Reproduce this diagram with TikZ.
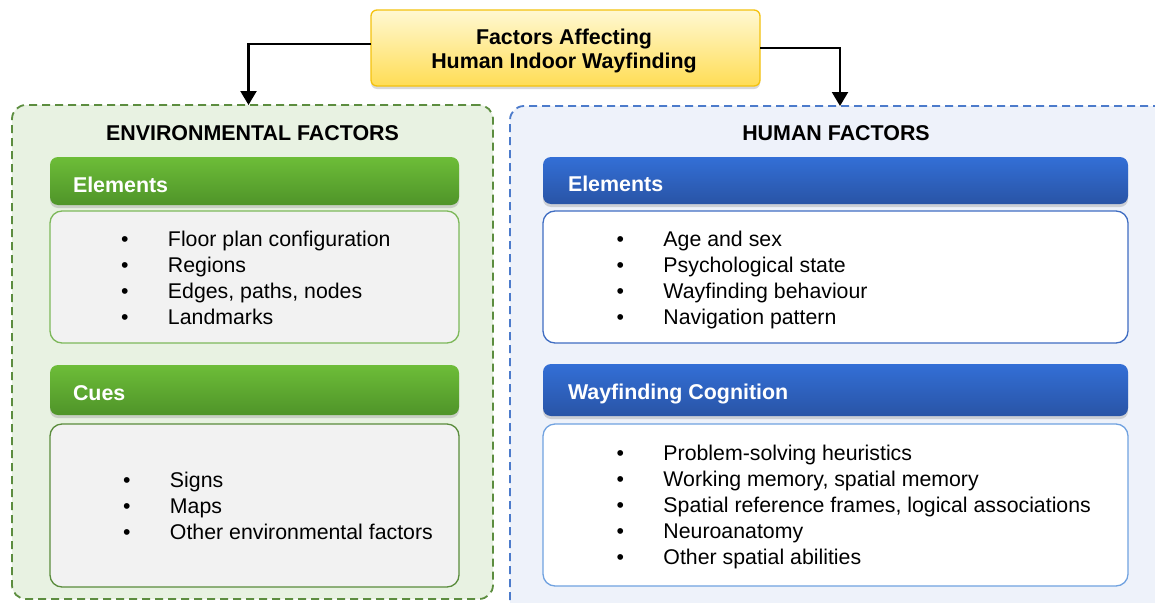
\documentclass[tikz,border=0pt]{standalone}
\usepackage{fontspec}
\setmainfont{Liberation Sans}
\usetikzlibrary{arrows.meta,shadows}

\definecolor{titleedge}{HTML}{F4C20F}
\definecolor{titletop}{HTML}{FFF8D2}
\definecolor{titlebot}{HTML}{FFDD55}
\definecolor{envedge}{HTML}{5C8D3F}
\definecolor{envfill}{HTML}{E8F2E2}
\definecolor{greentop}{HTML}{6DBD38}
\definecolor{greenbot}{HTML}{4F9429}
\definecolor{envlistedge}{HTML}{7DB85A}
\definecolor{envlistedgeb}{HTML}{5A8C3C}
\definecolor{listgray}{HTML}{F2F2F2}
\definecolor{humedge}{HTML}{4C7BCB}
\definecolor{humfill}{HTML}{EEF2FA}
\definecolor{bluetop}{HTML}{336FD6}
\definecolor{bluebot}{HTML}{2954A6}
\definecolor{humlistedge}{HTML}{3F6DC2}
\definecolor{humlistedgeb}{HTML}{70A2E0}

% a bulleted list whose first baseline is the node's base
\newenvironment{bulletlist}
  {\begin{tabular}[t]{@{}l@{}l@{}}}
  {\end{tabular}}
\newcommand\bul{\makebox[47pt][l]{•}}

\begin{document}
\begin{tikzpicture}[x=1pt,y=-1pt,
  every node/.style={inner sep=0pt, outer sep=0pt},
  bigfont/.style={font=\fontsize{21.4}{24}\selectfont\bfseries},
  listfont/.style={font=\fontsize{21.3}{26}\selectfont},
  shade/.style={drop shadow={shadow xshift=0pt, shadow yshift=-3pt, opacity=0.3}},
  titlebox/.style={draw=titleedge, line width=1.3pt, rounded corners=6pt,
    top color=titletop, bottom color=titlebot, shade,
    minimum width=389pt, minimum height=76pt},
  frame/.style={line width=1.8pt, dash pattern=on 8pt off 5pt, rounded corners=14pt},
  envframe/.style={frame, draw=envedge, fill=envfill},
  humframe/.style={frame, draw=humedge, fill=humfill},
  head/.style={rounded corners=8pt, shade},
  greenhead/.style={head, top color=greentop, bottom color=greenbot, minimum width=409pt},
  bluehead/.style={head, top color=bluetop, bottom color=bluebot, minimum width=585pt},
  headtext/.style={bigfont, text=white, anchor=base west},
  listbox/.style={rounded corners=12pt, line width=1.3pt},
  envlist/.style={listbox, fill=listgray, minimum width=409pt},
  humlist/.style={listbox, fill=white, minimum width=585pt},
  listtext/.style={listfont, anchor=base west},
  arr/.style={line width=2.2pt, -{Triangle[length=14pt,width=16pt]}}
]
\useasboundingbox (0,0) rectangle (1155,602);
\clip (0,0) rectangle (1155,602);

% outer groups
\node[envframe, minimum width=481pt, minimum height=494pt, anchor=north west] (env) at (12,105) {};
\node[humframe, minimum width=665pt, minimum height=520pt, anchor=north west] (hum) at (510,106) {};

% root
\node[titlebox, anchor=north west] (root) at (371,10) {};
\node[bigfont, anchor=base] (rootA) at (564,44.3) {Factors Affecting};
\node[bigfont, anchor=base] (rootB) at (564,68.3) {Human Indoor Wayfinding};

\draw[arr] ([yshift=4pt]root.west) -| ([xshift=-4pt]env.north);
\draw[arr] (root.east) -| ([xshift=-2.5pt]hum.north);

% group titles
\node[bigfont, anchor=base] (envtitle) at (252.5,140) {ENVIRONMENTAL FACTORS};
\node[bigfont, anchor=base] (humtitle) at (836,140) {HUMAN FACTORS};

% environmental factors
\node[greenhead, minimum height=48pt, anchor=north west] (envel) at (50,157) {};
\node[headtext] (envelT) at (73,192.3) {Elements};
\node[envlist, draw=envlistedge, minimum height=132pt, anchor=north west] (envellist) at (50,211) {};
\node[listtext] (envellistT) at (121,246.3)
  {\begin{bulletlist}
   \bul & Floor plan configuration\\
   \bul & Regions\\
   \bul & Edges, paths, nodes\\
   \bul & Landmarks
   \end{bulletlist}};

\node[greenhead, minimum height=50pt, anchor=north west] (envcue) at (50,365) {};
\node[headtext] (envcueT) at (73,400) {Cues};
\node[envlist, draw=envlistedgeb, minimum height=163pt, anchor=north west] (envcuelist) at (50,424) {};
\node[listtext] (envcuelistT) at (123,487)
  {\begin{bulletlist}
   \bul & Signs\\
   \bul & Maps\\
   \bul & Other environmental factors
   \end{bulletlist}};

% human factors
\node[bluehead, minimum height=47pt, anchor=north west] (humel) at (543,157) {};
\node[headtext] (humelT) at (568,191) {Elements};
\node[humlist, draw=humlistedge, minimum height=132pt, anchor=north west] (humellist) at (543,211) {};
\node[listtext] (humellistT) at (616.5,246)
  {\begin{bulletlist}
   \bul & Age and sex\\
   \bul & Psychological state\\
   \bul & Wayfinding behaviour\\
   \bul & Navigation pattern
   \end{bulletlist}};

\node[bluehead, minimum height=52pt, anchor=north west] (humcog) at (543,364) {};
\node[headtext] (humcogT) at (568,399.5) {Wayfinding Cognition};
\node[humlist, draw=humlistedgeb, minimum height=162pt, anchor=north west] (humcoglist) at (543,424) {};
\node[listtext] (humcoglistT) at (616.5,460)
  {\begin{bulletlist}
   \bul & Problem-solving heuristics\\
   \bul & Working memory, spatial memory\\
   \bul & Spatial reference frames, logical associations\\
   \bul & Neuroanatomy\\
   \bul & Other spatial abilities
   \end{bulletlist}};
\end{tikzpicture}
\end{document}
